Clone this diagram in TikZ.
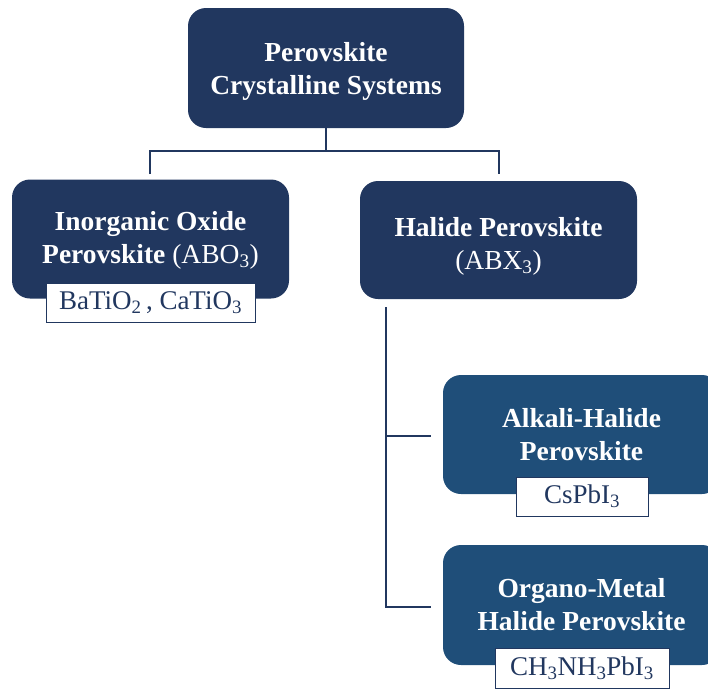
\documentclass[tikz,border=0pt]{standalone}
\usepackage{fontspec}
\setmainfont{Liberation Serif}
\definecolor{navy}{HTML}{21375F}
\definecolor{steel}{HTML}{1F4E79}
\begin{document}
\begin{tikzpicture}[x=1pt,y=-1pt,
  box/.style={fill=navy, rounded corners=18pt, minimum width=277pt, minimum height=119pt, inner sep=0pt},
  sbox/.style={box, fill=steel},
  title/.style={text=white, font=\fontsize{27.5}{33}\selectfont\bfseries, align=center, inner sep=0pt},
  lab/.style={draw=navy, line width=1pt, fill=white, text=navy, font=\fontsize{27}{30}\selectfont, inner sep=0pt},
  conn/.style={draw=navy, line width=2pt}
]
\useasboundingbox (0,0) rectangle (708,688);
\clip (0,0) rectangle (708,688);

\node[box, minimum width=276pt, minimum height=120pt] (top) at (326,68) {};
\node[title] (toptxt) at (326,71) {Perovskite\\Crystalline Systems};

\node[box] (inorg) at (150.5,239) {};
\node[title] (inorgtxt) at (150.5,240) {Inorganic Oxide\\Perovskite {\mdseries(ABO\textsubscript{3})}};
\node[lab, minimum width=209pt, minimum height=39pt] (inorglab) at (150.5,302.5) {BaTiO\textsubscript{2}\,, CaTiO\textsubscript{3}};

\node[box, minimum height=118pt] (hal) at (498.5,240) {};
\node[title] (haltxt) at (498.5,246) {Halide Perovskite\\{\mdseries(ABX\textsubscript{3})}};

\node[sbox] (alk) at (581.5,434.5) {};
\node[title] (alktxt) at (581.5,435) {Alkali-Halide\\Perovskite};
\node[lab, minimum width=132pt, minimum height=39pt] (alklab) at (582,496.5) {CsPbI\textsubscript{3}};

\node[sbox, minimum height=120pt] (org) at (581.5,605) {};
\node[title] (orgtxt) at (581.5,605) {Organo-Metal\\Halide Perovskite};
\node[lab, minimum width=174pt, minimum height=40pt] (orglab) at (582,668) {CH\textsubscript{3}NH\textsubscript{3}PbI\textsubscript{3}};

\coordinate (j1) at (326,151);
\coordinate (l1) at (150,151);
\coordinate (l2) at (150,174);
\coordinate (r1) at (499,151);
\coordinate (r2) at (499,174);
\draw[conn] (top.south) -- (j1);
\draw[conn] (l2) -- (l1) -- (r1) -- (r2);

\coordinate (h1) at (386,307);
\coordinate (hm) at (386,436);
\coordinate (h2) at (386,607);
\coordinate (a1) at (431,436);
\coordinate (o1) at (431,607);
\draw[conn] (h1) -- (h2) -- (o1);
\draw[conn] (hm) -- (a1);
\end{tikzpicture}
\end{document}
